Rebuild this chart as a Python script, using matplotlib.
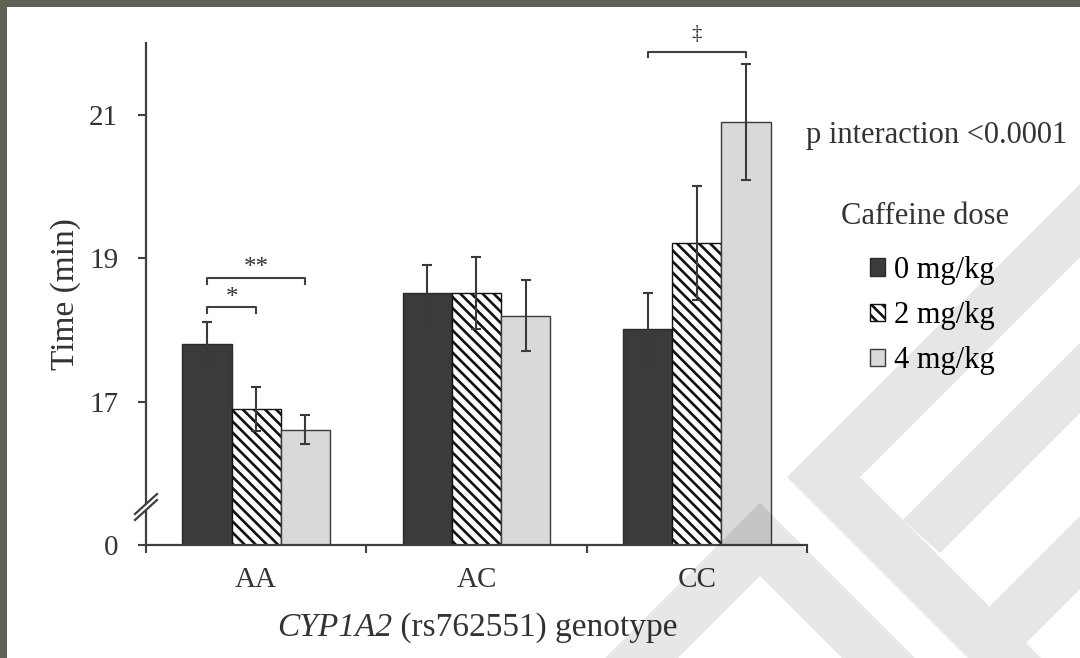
import numpy as np
import matplotlib
matplotlib.use("Agg")
import matplotlib.pyplot as plt
from matplotlib.patches import Polygon, Rectangle
from matplotlib.lines import Line2D

# ---------------- data ----------------
genotypes = ["AA", "AC", "CC"]
doses = ["0 mg/kg", "2 mg/kg", "4 mg/kg"]
time_0mg = [17.80, 18.51, 18.01]
err_0mg = [0.31, 0.39, 0.51]
time_2mg = [16.90, 18.51, 19.21]
err_2mg = [0.31, 0.50, 0.80]
time_4mg = [16.61, 18.20, 20.90]
err_4mg = [0.20, 0.50, 0.81]
ytick_values = [15, 17, 19, 21]
ytick_labels = ["0", "17", "19", "21"]
axis_base = 15  # broken axis: baseline drawn as 0

plt.rcParams["font.family"] = ["Liberation Serif", "DejaVu Serif"]
plt.rcParams["hatch.linewidth"] = 1.9

W, H = 1080, 658
fig = plt.figure(figsize=(W / 100, H / 100), dpi=100)
fig.patch.set_facecolor("#606154")

def fx(px):
    return px / W

def fy(py):
    return 1 - py / H

# white page inside the dark frame
fig.patches.append(Rectangle((fx(7), 0), 1, fy(7), transform=fig.transFigure,
                             facecolor="white", edgecolor="none", zorder=-10))

# faint watermark shapes
wm = "#e6e6e6"
shapes = [
    [(1080, 184), (787, 477), (968, 658), (1041, 658), (860, 477), (1080, 257)],
    [(903, 520), (1080, 343), (1080, 413), (940, 553)],
    [(989, 607), (1080, 516), (1080, 589), (1022, 647)],
]
for s in shapes:
    fig.patches.append(Polygon([(fx(a), fy(b)) for a, b in s], closed=True,
                               transform=fig.transFigure, facecolor=wm,
                               edgecolor="none", zorder=-5))
caret = [(760, 503), (915, 658), (842, 658), (760, 576), (678, 658), (605, 658)]
fig.patches.append(Polygon([(fx(a), fy(b)) for a, b in caret], closed=True,
                           transform=fig.transFigure, facecolor="k", alpha=0.095,
                           edgecolor="none", zorder=20))

ax = fig.add_axes([fx(146), 1 - 545 / H, 661 / W, 502 / H])
ax.patch.set_alpha(0)

x = np.arange(len(genotypes))
bw = 0.223
ink = "#333333"
ekw = dict(ecolor="#3a3a3a", elinewidth=1.5, capsize=3.5, capthick=1.5)

b0 = ax.bar(x - bw, time_0mg, bw, yerr=err_0mg, color="#3b3b3b",
            edgecolor="#2a2a2a", linewidth=1.0, label=doses[0], error_kw=ekw)
b2 = ax.bar(x, time_2mg, bw, yerr=err_2mg, color="white", edgecolor="#111111",
            hatch="\\\\\\", linewidth=1.0, label=doses[1], error_kw=ekw)
b4 = ax.bar(x + bw, time_4mg, bw, yerr=err_4mg, color="#d9d9d9",
            edgecolor="#3a3a3a", linewidth=1.0, label=doses[2], error_kw=ekw)

ax.set_ylim(axis_base, 22)
ax.set_xlim(-0.5, 2.5)
ax.set_yticks(ytick_values)
ax.set_yticklabels(ytick_labels)
ax.set_xticks(x)
ax.set_xticklabels(genotypes)
ax.set_xticks([-0.5, 0.5, 1.5, 2.5], minor=True)
ax.tick_params(axis="x", which="major", length=0, pad=15.5, labelsize=21, labelcolor=ink)
ax.tick_params(axis="x", which="minor", length=6, width=1.5, color="#404040", direction="out")
ax.tick_params(axis="y", length=6, width=1.5, color="#404040", direction="out",
               pad=14, labelsize=21, labelcolor=ink)
for side in ["top", "right"]:
    ax.spines[side].set_visible(False)
for side in ["left", "bottom"]:
    ax.spines[side].set_color("#404040")
    ax.spines[side].set_linewidth(1.6)

ax.set_ylabel("Time (min)", fontsize=24, color=ink)
ax.yaxis.set_label_coords(-0.098, 0.5)

# x label: italic gene name followed by upright text
renderer = fig.canvas.get_renderer()
t1 = fig.text(0, fy(636), "CYP1A2", fontsize=24, style="italic", color=ink,
              ha="left", va="baseline")
t2 = fig.text(0, fy(636), " (rs762551) genotype", fontsize=24, color=ink,
              ha="left", va="baseline")
w1 = t1.get_window_extent(renderer).width
w2 = t2.get_window_extent(renderer).width
x_start = 477 - (w1 + w2) / 2
t1.set_x(fx(x_start))
t2.set_x(fx(x_start + w1))

# axis break marker
ax_h = 502.0
ax_w = 661.0
yb = (15.53 - axis_base) / 7.0
def axpt(dx, dy):
    return (dx / ax_w, yb + dy / ax_h)
gap = Polygon([axpt(-11, -7), axpt(11, 13), axpt(11, 7), axpt(-11, -13)],
              closed=True, transform=ax.transAxes, facecolor="white",
              edgecolor="none", clip_on=False, zorder=5)
ax.add_patch(gap)
for off in (-3, 3):
    p0 = axpt(-11, -10 + off)
    p1 = axpt(11, 10 + off)
    ax.add_line(Line2D([p0[0], p1[0]], [p0[1], p1[1]], transform=ax.transAxes,
                       color="#404040", lw=1.6, clip_on=False, zorder=6))

# significance brackets
def bracket(x0, x1, y, drop, label, ty, size):
    ax.plot([x0, x0, x1, x1], [y - drop, y, y, y - drop], color="#404040",
            lw=1.5, clip_on=False)
    ax.text((x0 + x1) / 2, ty, label, ha="center", va="center", fontsize=size,
            color=ink, clip_on=False)

bracket(0 - bw, 0 + bw, 18.73, 0.09, "**", 18.86, 18)
bracket(0 - bw, 0, 18.32, 0.09, "*", 18.45, 18)
bracket(2 - bw, 2 + bw, 21.88, 0.08, "\u2021", 22.12, 15)

fig.text(fx(806), fy(135), "p interaction <0.0001", fontsize=22, color=ink,
         ha="left", va="center")

fig.text(fx(925), fy(217), "Caffeine dose", fontsize=22, color=ink,
         ha="center", va="center")
fig.legend(handles=[b0, b2, b4], labels=doses,
           loc="upper left", bbox_to_anchor=(fx(870), fy(256)), frameon=False,
           fontsize=22, handlelength=0.5, handleheight=0.5,
           handletextpad=0.3, labelspacing=0.53, borderpad=0, borderaxespad=0)

fig.savefig("out.png", dpi=100, facecolor=fig.get_facecolor())
